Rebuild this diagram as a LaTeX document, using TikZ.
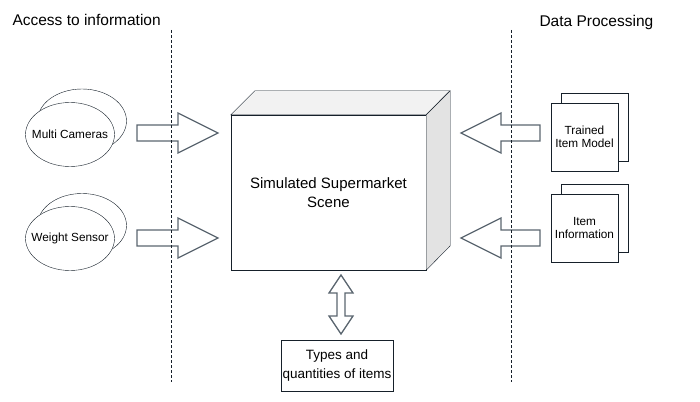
\documentclass[tikz,border=0pt]{standalone}
\usepackage{fontspec}
\setmainfont{Liberation Sans}
\usetikzlibrary{shapes.geometric}
\definecolor{arrowgray}{HTML}{5B6670}
\definecolor{edgedark}{HTML}{16202A}

\begin{document}
\begin{tikzpicture}[x=1pt, y=-1pt,
    smalltext/.style={font=\fontsize{11.8}{13.5}\selectfont, align=center},
    sensor/.style={draw=edgedark, ellipse, fill=white, minimum width=89pt, minimum height=64pt, inner sep=0pt},
    sheet/.style={draw=edgedark, fill=white, minimum width=67pt, minimum height=68pt, inner sep=0pt, smalltext},
    blockarrow/.style={draw=arrowgray, fill=white, line width=1.3pt, line join=miter},
    divider/.style={edgedark, dash pattern=on 3pt off 2pt, line width=0.8pt},
    heading/.style={anchor=west, font=\fontsize{15.5}{18}\selectfont}]
    \useasboundingbox (0,0) rectangle (700,401);

    % column titles
    \node[heading] (access) at (9,20) {Access to information};
    \node[heading] (processing) at (536,22) {Data Processing};

    % sensors
    \node[sensor] (camerasback) at (82,121) {};
    \node[sensor, label={[smalltext]center:Multi Cameras}] (cameras) at (70,134.5) {};
    \node[sensor] (weightback) at (82,225.5) {};
    \node[sensor, label={[smalltext]center:Weight Sensor}] (weight) at (70,238.5) {};

    % scene box
    \node[draw=edgedark, fill=white, minimum width=195pt, minimum height=155pt, align=center,
          font=\fontsize{15}{19}\selectfont] (scene) at (328.5,192.5) {Simulated Supermarket\\Scene};
    \draw[edgedark, fill=gray!10] (scene.north west) -- ++(24,-24) -- ++(195,0) -- (scene.north east) -- cycle;
    \draw[edgedark, fill=gray!22] (scene.north east) -- ++(24,-24) -- ++(0,155) -- (scene.south east) -- cycle;

    % data sheets
    \node[sheet] (modelback) at (594.5,127) {};
    \node[sheet] (model) at (584.5,137) {Trained\\Item Model};
    \node[sheet] (infoback) at (594.5,218) {};
    \node[sheet] (info) at (584.5,228) {Item\\Information};

    % output box
    \node[draw=edgedark, minimum width=112pt, minimum height=51pt, inner sep=0pt, align=center,
          font=\fontsize{13.5}{19}\selectfont] (counts) at (337,365.5) {Types and\\quantities of items};

    % block arrows
    \draw[blockarrow] (137,125) -- ++(41,0) -- ++(0,-12) -- ++(40,20) -- ++(-40,20) -- ++(0,-12) -- ++(-41,0) -- cycle;
    \draw[blockarrow] (137,230) -- ++(41,0) -- ++(0,-12) -- ++(40,20) -- ++(-40,20) -- ++(0,-12) -- ++(-41,0) -- cycle;
    \draw[blockarrow] (540,125) -- ++(-39,0) -- ++(0,-12) -- ++(-40,20) -- ++(40,20) -- ++(0,-12) -- ++(39,0) -- cycle;
    \draw[blockarrow] (540,230) -- ++(-39,0) -- ++(0,-12) -- ++(-40,20) -- ++(40,20) -- ++(0,-12) -- ++(39,0) -- cycle;
    \draw[blockarrow] (337,293) -- (329,293) -- (341,275) -- (353,293) -- (345,293)
        -- (345,316) -- (353,316) -- (341,334) -- (329,316) -- (337,316) -- cycle;

    % dividers
    \draw[divider] (171,30) -- (171,382);
    \draw[divider] (511,30) -- (511,382);
\end{tikzpicture}
\end{document}
